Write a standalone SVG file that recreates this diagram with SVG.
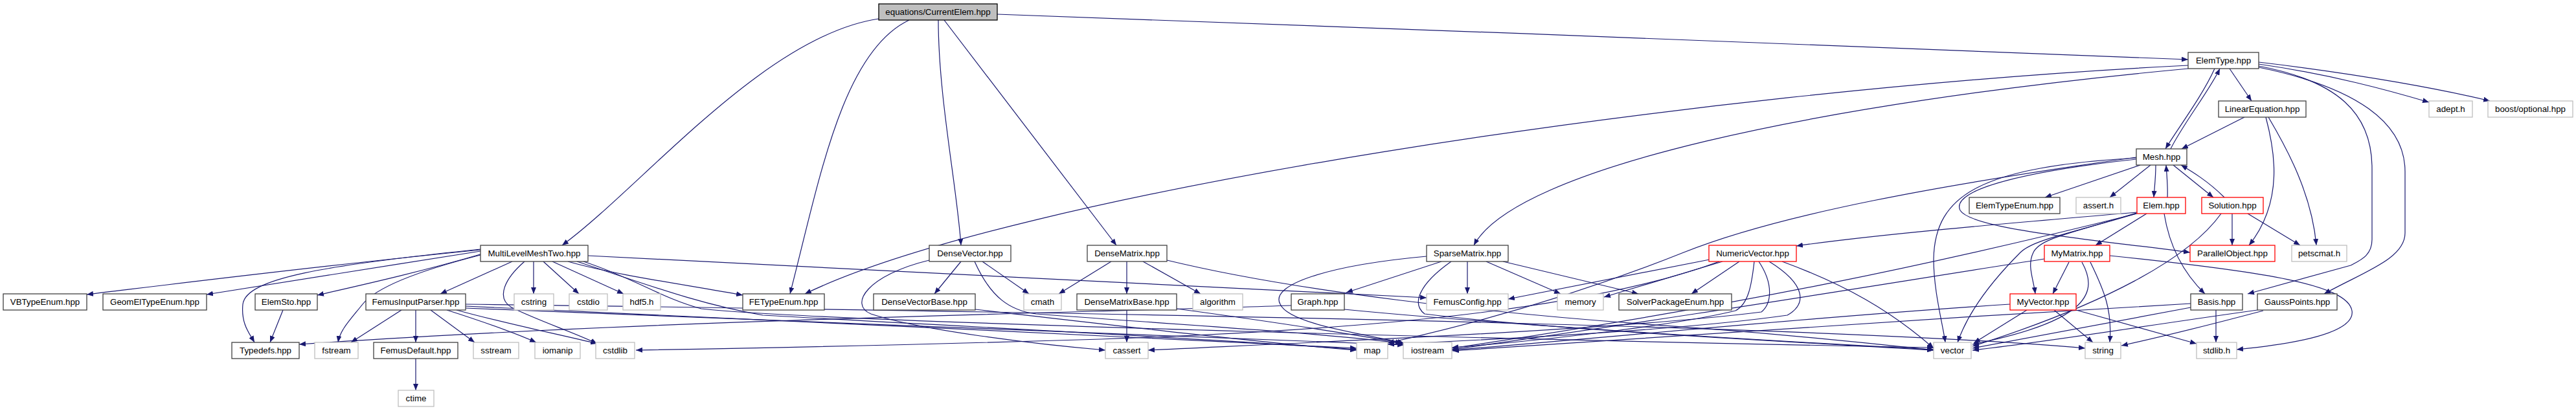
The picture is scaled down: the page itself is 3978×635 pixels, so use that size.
<svg xmlns="http://www.w3.org/2000/svg" width="3978" height="635" viewBox="0 0 3978 635">
<style>
.n rect{fill:#fff;stroke:#404040;stroke-width:1.3}
.g rect{stroke:#bfbfbf}
.r rect{stroke:#ff0000}
.root rect{fill:#bfbfbf;stroke:#000}
text{font-family:"Liberation Sans",Arial,Helvetica,sans-serif;font-size:13.33px;text-anchor:middle;fill:#000}
#edges path{fill:none;stroke:#191970;stroke-width:1.2;marker-end:url(#a)}
</style>
<defs>
<marker id="a" markerWidth="11" markerHeight="8" refX="10" refY="4" orient="auto" markerUnits="userSpaceOnUse"><path d="M0,0 L10,4 L0,8 z" fill="#191970"/></marker>
</defs>
<rect width="3978" height="635" fill="#fff"/>
<g id="edges">
<path d="M1540,22 C2100,40 2900,75 3379,92"/>
<path d="M1357,29 C1180,55 990,290 868,379"/>
<path d="M1404,31 C1300,80 1265,280 1220,454"/>
<path d="M1449,31 C1449,150 1478,290 1484,379"/>
<path d="M1458,31 L1724,379"/>
<path d="M3420,106 C3400,150 3362,200 3344,230"/>
<path d="M3352,230 C3372,190 3412,140 3428,106"/>
<path d="M3443,106 L3477,156"/>
<path d="M3488,99 C3600,115 3690,140 3751,158"/>
<path d="M3488,96 C3650,115 3780,140 3845,156"/>
<path d="M3488,102 C3610,125 3663,175 3663,260 L3663,370 C3663,395 3645,402 3630,410 L3471,454"/>
<path d="M3488,104 C3640,135 3714,190 3714,265 L3714,360 C3714,400 3650,420 3589,454"/>
<path d="M3379,101 C2600,140 1560,300 1243,454"/>
<path d="M3379,106 C2800,160 2340,260 2276,379"/>
<path d="M3466,181 L3369,230"/>
<path d="M3499,181 C3512,230 3528,310 3473,379"/>
<path d="M3503,181 C3532,230 3570,300 3577,379"/>
<path d="M3305,255 L3158,305"/>
<path d="M3321,255 L3258,305"/>
<path d="M3329,255 C3329,275 3327,290 3326,305"/>
<path d="M3347,305 C3348,290 3346,270 3345,255"/>
<path d="M3356,255 L3418,305"/>
<path d="M3435,305 C3410,280 3385,265 3368,255"/>
<path d="M3299,246 C3150,262 3010,290 3027,325 C3045,355 3250,372 3382,390"/>
<path d="M3299,244 C3060,258 2988,300 2986,400 C2986,450 3000,500 3004,529"/>
<path d="M3299,243 C3000,285 2750,330 2600,390 C2450,450 2300,495 2143,530"/>
<path d="M3315,330 L3236,379"/>
<path d="M3300,328 C3100,345 2900,362 2774,380"/>
<path d="M3299,329 C3200,360 3150,368 3140,390 C3130,410 3140,430 3143,454"/>
<path d="M3342,330 C3350,380 3370,420 3405,454"/>
<path d="M3299,330 C3200,360 3140,370 3120,390 C3080,430 3040,480 3023,529"/>
<path d="M3300,330 C3000,405 2700,470 2242,538"/>
<path d="M3447,330 L3447,379"/>
<path d="M3471,330 L3552,379"/>
<path d="M3430,330 C3380,400 3250,470 3046,535"/>
<path d="M3195,405 L3170,454"/>
<path d="M3215,405 C3240,450 3230,495 3046,532"/>
<path d="M3228,405 C3250,450 3262,480 3258,529"/>
<path d="M3258,395 C3500,420 3625,440 3632,480 C3638,515 3540,532 3454,540"/>
<path d="M3157,400 C2900,440 2600,490 2242,540"/>
<path d="M3130,479 L3048,530"/>
<path d="M3172,479 L3232,529"/>
<path d="M3206,479 L3392,531"/>
<path d="M3104,470 C2800,490 2500,520 2242,541"/>
<path d="M3383,475 C3250,500 3120,525 3046,538"/>
<path d="M3422,479 L3422,529"/>
<path d="M3383,469 C3000,490 2600,520 2243,542"/>
<path d="M3486,479 C3300,505 3150,530 3046,541"/>
<path d="M3495,480 C3420,500 3330,522 3276,534"/>
<path d="M2640,401 L2329,462"/>
<path d="M2660,404 L2477,459"/>
<path d="M2686,404 L2612,454"/>
<path d="M2709,404 C2705,440 2700,470 2680,480 C2600,500 2400,525 2242,537"/>
<path d="M2716,404 C2740,440 2735,470 2720,482 C2500,510 2000,530 1773,541"/>
<path d="M2732,404 C2790,440 2790,470 2760,487 C2600,510 2300,525 2143,532"/>
<path d="M2752,404 C2850,440 2920,480 2986,538"/>
<path d="M2655,404 C2450,480 2100,510 1700,524 C1300,536 1100,539 982,541"/>
<path d="M2266,404 L2266,454"/>
<path d="M2295,404 L2410,454"/>
<path d="M2321,404 L2530,454"/>
<path d="M2226,404 L2079,452"/>
<path d="M2241,404 C2190,440 2180,470 2200,485 C2400,510 2800,530 2986,541"/>
<path d="M2203,396 C2050,410 1960,440 1977,470 C1990,500 2100,515 2168,530"/>
<path d="M1994,472 C1600,485 1000,495 462,532"/>
<path d="M2076,478 C2300,500 2700,525 2986,540"/>
<path d="M1484,404 L1443,454"/>
<path d="M1517,404 L1589,454"/>
<path d="M1505,404 C1530,460 1560,480 1600,485 C1800,500 2050,515 2168,531"/>
<path d="M1435,402 C1340,425 1310,470 1345,485 C1420,510 1600,532 1707,541"/>
<path d="M1716,404 L1635,454"/>
<path d="M1740,404 L1740,454"/>
<path d="M1765,404 L1854,454"/>
<path d="M1802,402 C2000,450 2300,485 2600,505 C2800,520 2930,535 2986,541"/>
<path d="M1506,478 C1700,500 1950,530 2095,541"/>
<path d="M1740,479 L1740,529"/>
<path d="M1817,477 C1950,495 2080,515 2165,530"/>
<path d="M742,386 C500,410 300,435 134,455"/>
<path d="M742,388 C600,410 450,435 319,455"/>
<path d="M745,392 C650,420 560,440 490,456"/>
<path d="M791,404 L680,454"/>
<path d="M742,385 C500,410 380,430 375,470 C372,500 385,515 393,529"/>
<path d="M742,394 C640,420 580,445 560,470 C540,495 525,510 522,529"/>
<path d="M824,404 L824,454"/>
<path d="M839,404 L894,454"/>
<path d="M853,404 L963,454"/>
<path d="M877,404 C950,425 1060,440 1147,456"/>
<path d="M810,404 C780,430 765,460 790,475 C830,495 890,515 922,531"/>
<path d="M908,395 C1300,415 1800,440 2203,460"/>
<path d="M901,404 C980,430 1020,460 1083,477 C1300,500 2500,528 2986,537"/>
<path d="M891,404 C1000,440 1080,470 1178,487 C1500,505 1900,525 2095,540"/>
<path d="M437,479 L417,529"/>
<path d="M620,479 L542,529"/>
<path d="M642,479 L642,529"/>
<path d="M665,479 L733,529"/>
<path d="M690,479 C740,495 790,512 828,529"/>
<path d="M705,479 C780,500 870,518 922,531"/>
<path d="M719,473 C1000,490 1700,515 2095,538"/>
<path d="M719,476 C1100,495 1800,515 2168,533"/>
<path d="M719,470 C1500,480 2800,500 3220,538"/>
<path d="M642,554 L642,603"/>
</g>
<g id="n_root" class="n root"><rect x="1357" y="6" width="183" height="25"/><text x="1448.5" y="23">equations/CurrentElem.hpp</text></g>
<g id="n_ElemType" class="n"><rect x="3379" y="81" width="109" height="25"/><text x="3433.5" y="98">ElemType.hpp</text></g>
<g id="n_LinearEquation" class="n"><rect x="3426" y="156" width="135" height="25"/><text x="3493.5" y="173">LinearEquation.hpp</text></g>
<g id="n_adept" class="n g"><rect x="3751" y="156" width="67" height="25"/><text x="3784.5" y="173">adept.h</text></g>
<g id="n_boost" class="n g"><rect x="3842" y="156" width="131" height="25"/><text x="3907.5" y="173">boost/optional.hpp</text></g>
<g id="n_Mesh" class="n"><rect x="3299" y="230" width="78" height="25"/><text x="3338" y="247">Mesh.hpp</text></g>
<g id="n_ElemTypeEnum" class="n"><rect x="3041" y="305" width="140" height="25"/><text x="3111" y="322">ElemTypeEnum.hpp</text></g>
<g id="n_assert" class="n g"><rect x="3206" y="305" width="69" height="25"/><text x="3240.5" y="322">assert.h</text></g>
<g id="n_Elem" class="n r"><rect x="3300" y="305" width="75" height="25"/><text x="3337.5" y="322">Elem.hpp</text></g>
<g id="n_Solution" class="n r"><rect x="3400" y="305" width="95" height="25"/><text x="3447.5" y="322">Solution.hpp</text></g>
<g id="n_MLMT" class="n"><rect x="742" y="379" width="166" height="25"/><text x="825" y="396">MultiLevelMeshTwo.hpp</text></g>
<g id="n_DenseVector" class="n"><rect x="1435" y="379" width="126" height="25"/><text x="1498" y="396">DenseVector.hpp</text></g>
<g id="n_DenseMatrix" class="n"><rect x="1679" y="379" width="123" height="25"/><text x="1740.5" y="396">DenseMatrix.hpp</text></g>
<g id="n_SparseMatrix" class="n"><rect x="2203" y="379" width="126" height="25"/><text x="2266" y="396">SparseMatrix.hpp</text></g>
<g id="n_NumericVector" class="n r"><rect x="2639" y="379" width="135" height="25"/><text x="2706.5" y="396">NumericVector.hpp</text></g>
<g id="n_MyMatrix" class="n r"><rect x="3157" y="379" width="101" height="25"/><text x="3207.5" y="396">MyMatrix.hpp</text></g>
<g id="n_ParallelObject" class="n r"><rect x="3382" y="379" width="131" height="25"/><text x="3447.5" y="396">ParallelObject.hpp</text></g>
<g id="n_petscmat" class="n g"><rect x="3539" y="379" width="85" height="25"/><text x="3581.5" y="396">petscmat.h</text></g>
<g id="n_VBTypeEnum" class="n"><rect x="5" y="454" width="129" height="25"/><text x="69.5" y="471">VBTypeEnum.hpp</text></g>
<g id="n_GeomElTypeEnum" class="n"><rect x="159" y="454" width="160" height="25"/><text x="239" y="471">GeomElTypeEnum.hpp</text></g>
<g id="n_ElemSto" class="n"><rect x="394" y="454" width="96" height="25"/><text x="442" y="471">ElemSto.hpp</text></g>
<g id="n_FemusInputParser" class="n"><rect x="565" y="454" width="154" height="25"/><text x="642" y="471">FemusInputParser.hpp</text></g>
<g id="n_cstring" class="n g"><rect x="794" y="454" width="61" height="25"/><text x="824.5" y="471">cstring</text></g>
<g id="n_cstdio" class="n g"><rect x="879" y="454" width="59" height="25"/><text x="908.5" y="471">cstdio</text></g>
<g id="n_hdf5" class="n g"><rect x="962" y="454" width="58" height="25"/><text x="991" y="471">hdf5.h</text></g>
<g id="n_FETypeEnum" class="n"><rect x="1147" y="454" width="126" height="25"/><text x="1210" y="471">FETypeEnum.hpp</text></g>
<g id="n_DenseVectorBase" class="n"><rect x="1349" y="454" width="157" height="25"/><text x="1427.5" y="471">DenseVectorBase.hpp</text></g>
<g id="n_cmath" class="n g"><rect x="1581" y="454" width="58" height="25"/><text x="1610" y="471">cmath</text></g>
<g id="n_DenseMatrixBase" class="n"><rect x="1663" y="454" width="154" height="25"/><text x="1740" y="471">DenseMatrixBase.hpp</text></g>
<g id="n_algorithm" class="n g"><rect x="1842" y="454" width="77" height="25"/><text x="1880.5" y="471">algorithm</text></g>
<g id="n_Graph" class="n"><rect x="1994" y="454" width="82" height="25"/><text x="2035" y="471">Graph.hpp</text></g>
<g id="n_FemusConfig" class="n g"><rect x="2203" y="454" width="126" height="25"/><text x="2266" y="471">FemusConfig.hpp</text></g>
<g id="n_memory" class="n g"><rect x="2405" y="454" width="71" height="25"/><text x="2440.5" y="471">memory</text></g>
<g id="n_SolverPackageEnum" class="n"><rect x="2500" y="454" width="174" height="25"/><text x="2587" y="471">SolverPackageEnum.hpp</text></g>
<g id="n_MyVector" class="n r"><rect x="3104" y="454" width="102" height="25"/><text x="3155" y="471">MyVector.hpp</text></g>
<g id="n_Basis" class="n"><rect x="3383" y="454" width="80" height="25"/><text x="3423" y="471">Basis.hpp</text></g>
<g id="n_GaussPoints" class="n"><rect x="3486" y="454" width="123" height="25"/><text x="3547.5" y="471">GaussPoints.hpp</text></g>
<g id="n_Typedefs" class="n"><rect x="358" y="529" width="104" height="25"/><text x="410" y="546">Typedefs.hpp</text></g>
<g id="n_fstream" class="n g"><rect x="486" y="529" width="67" height="25"/><text x="519.5" y="546">fstream</text></g>
<g id="n_FemusDefault" class="n"><rect x="577" y="529" width="130" height="25"/><text x="642" y="546">FemusDefault.hpp</text></g>
<g id="n_sstream" class="n g"><rect x="731" y="529" width="70" height="25"/><text x="766" y="546">sstream</text></g>
<g id="n_iomanip" class="n g"><rect x="826" y="529" width="70" height="25"/><text x="861" y="546">iomanip</text></g>
<g id="n_cstdlib" class="n g"><rect x="920" y="529" width="60" height="25"/><text x="950" y="546">cstdlib</text></g>
<g id="n_cassert" class="n g"><rect x="1707" y="529" width="66" height="25"/><text x="1740" y="546">cassert</text></g>
<g id="n_map" class="n g"><rect x="2095" y="529" width="48" height="25"/><text x="2119" y="546">map</text></g>
<g id="n_iostream" class="n g"><rect x="2167" y="529" width="75" height="25"/><text x="2204.5" y="546">iostream</text></g>
<g id="n_vector" class="n g"><rect x="2986" y="529" width="58" height="25"/><text x="3015" y="546">vector</text></g>
<g id="n_string" class="n g"><rect x="3220" y="529" width="55" height="25"/><text x="3247.5" y="546">string</text></g>
<g id="n_stdlib" class="n g"><rect x="3392" y="529" width="62" height="25"/><text x="3423" y="546">stdlib.h</text></g>
<g id="n_ctime" class="n g"><rect x="615" y="603" width="55" height="25"/><text x="642.5" y="620">ctime</text></g>
</svg>
